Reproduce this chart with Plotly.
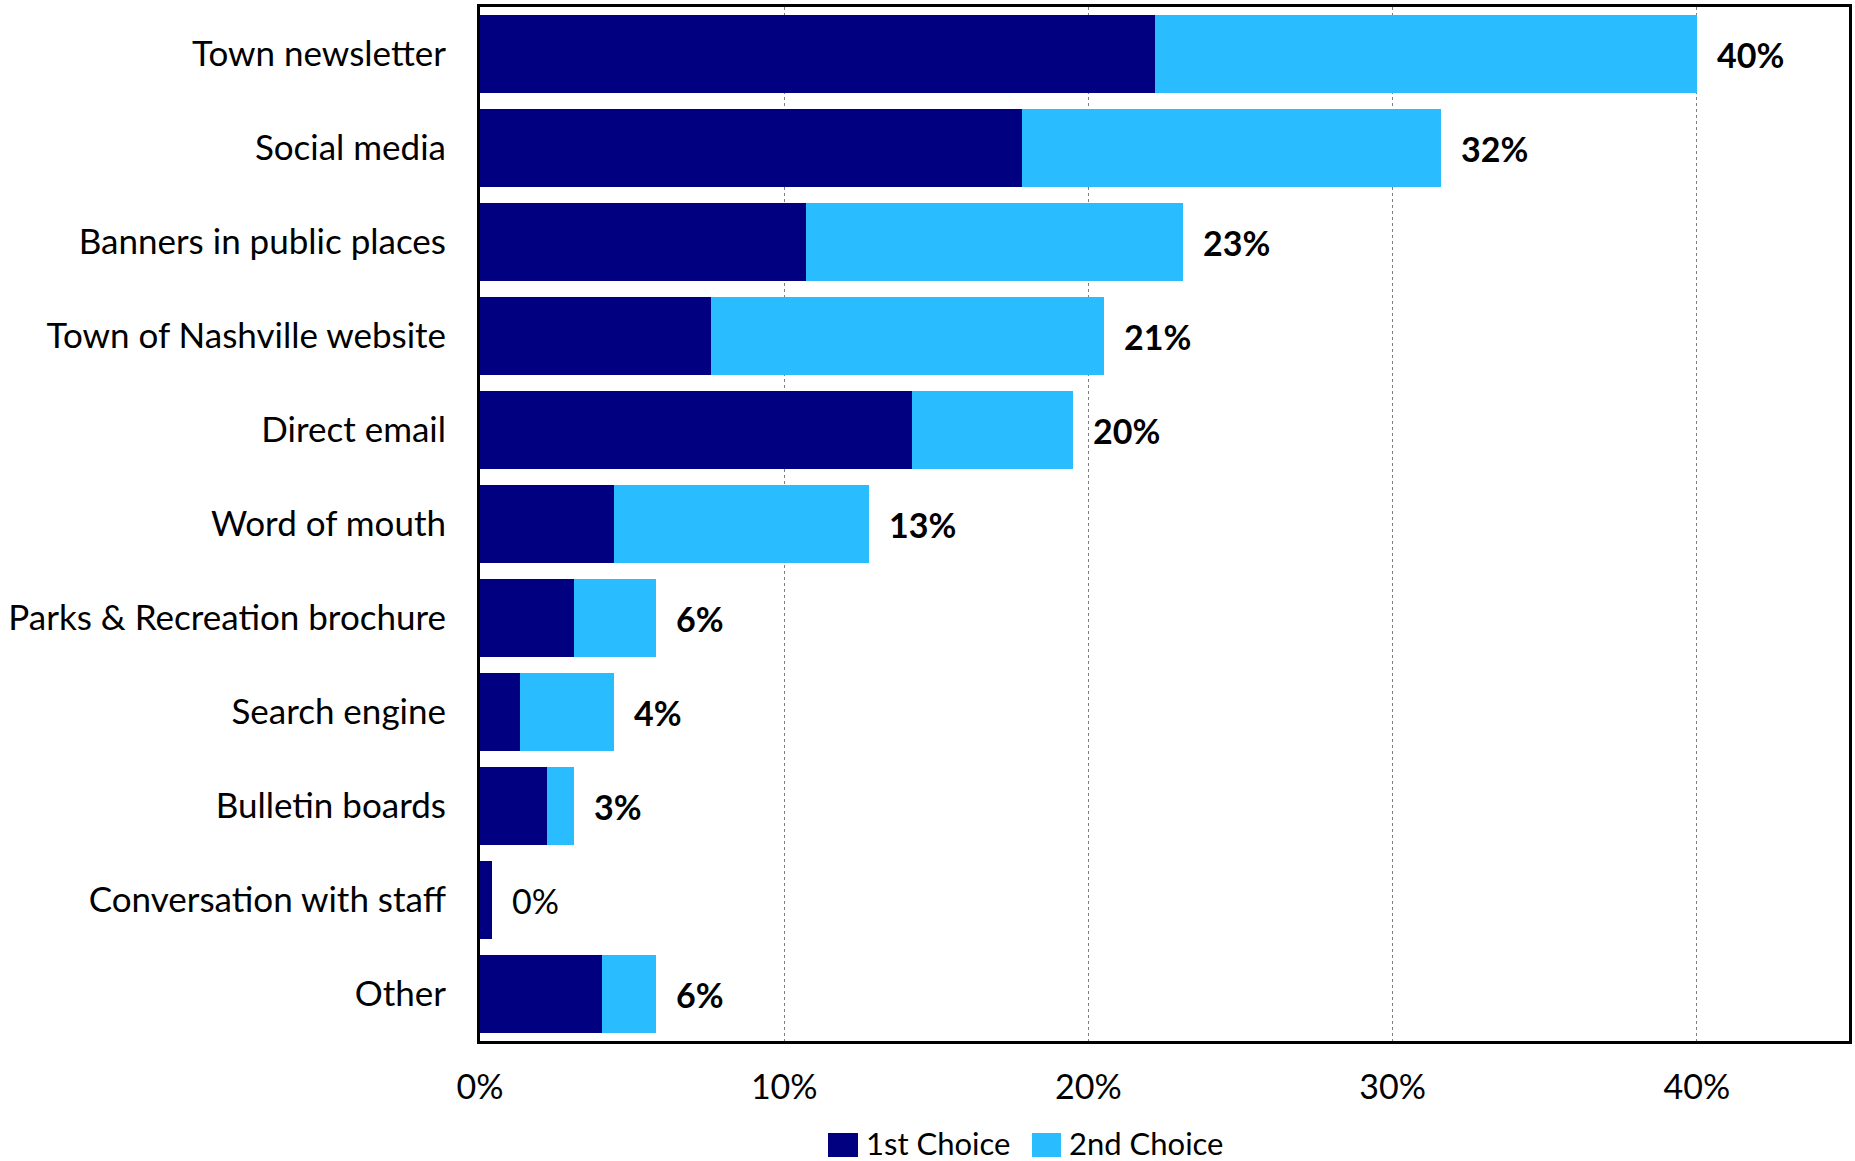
import plotly.graph_objects as go

categories = ["Town newsletter", "Social media", "Banners in public places",
              "Town of Nashville website", "Direct email", "Word of mouth",
              "Parks & Recreation brochure", "Search engine", "Bulletin boards",
              "Conversation with staff", "Other"]
first_choice = [22.2, 17.8, 10.7, 7.6, 14.2, 4.4, 3.1, 1.3, 2.2, 0.4, 4.0]
second_choice = [17.8, 13.8, 12.4, 12.9, 5.3, 8.4, 2.7, 3.1, 0.9, 0.0, 1.8]
total_labels = ["40%", "32%", "23%", "21%", "20%", "13%", "6%", "4%", "3%", "0%", "6%"]
label_bold = [True, True, True, True, True, True, True, True, True, False, True]
x_ticks = [0, 10, 20, 30, 40]
x_tick_text = ["0%", "10%", "20%", "30%", "40%"]
series_names = ["1st Choice", "2nd Choice"]

FONT = "Lato, 'Open Sans', sans-serif"
NAVY = "#000080"
LIGHT = "#29BCFF"

fig = go.Figure()
fig.add_trace(go.Bar(y=categories, x=first_choice, orientation="h", name=series_names[0],
                     marker=dict(color=NAVY, line=dict(width=0))))
fig.add_trace(go.Bar(y=categories, x=second_choice, orientation="h", name=series_names[1],
                     marker=dict(color=LIGHT, line=dict(width=0))))

for cat, a, b, lab, bold in zip(categories, first_choice, second_choice, total_labels, label_bold):
    fig.add_annotation(x=a + b, y=cat, xref="x", yref="y", text=f"<b>{lab}</b>" if bold else lab,
                       showarrow=False, xanchor="left", yanchor="middle", xshift=18,
                       font=dict(family=FONT, size=34, color="black"))

# manual legend (swatches + labels) below the plot
legend_items = [(NAVY, series_names[0], 0.2542, 0.2761, 0.2812),
                (LIGHT, series_names[1], 0.4032, 0.4244, 0.4295)]
for color, name, sx0, sx1, tx in legend_items:
    fig.add_shape(type="rect", xref="paper", yref="paper", x0=sx0, x1=sx1, y0=-0.1122, y1=-0.0890,
                  fillcolor=color, line=dict(width=0))
    fig.add_annotation(x=tx, y=-0.0985, xref="paper", yref="paper", text=name, showarrow=False,
                       xanchor="left", yanchor="middle", borderpad=0,
                       font=dict(family=FONT, size=31, color="black"))

fig.update_layout(
    width=1855, height=1161,
    margin=dict(l=480, r=6, t=7, b=120),
    barmode="stack", bargap=0.17,
    plot_bgcolor="white", paper_bgcolor="white",
    font=dict(family=FONT, size=34, color="black"),
    showlegend=False,
)
fig.update_xaxes(range=[0, 45], tickvals=x_ticks, ticktext=x_tick_text,
                 showgrid=True, gridcolor="#7f7f7f", gridwidth=1, griddash="dot",
                 showline=True, linecolor="black", linewidth=3, mirror=True,
                 zeroline=False, ticks="", ticklabelstandoff=14, automargin=False,
                 tickfont=dict(family=FONT, size=34, color="black"))
fig.update_yaxes(categoryorder="array", categoryarray=categories, autorange="reversed",
                 showline=True, linecolor="black", linewidth=3, mirror=True,
                 showgrid=False, ticks="", ticklabelstandoff=24, automargin=False,
                 tickfont=dict(family=FONT, size=35, color="black"))

fig.write_html("out.html")
